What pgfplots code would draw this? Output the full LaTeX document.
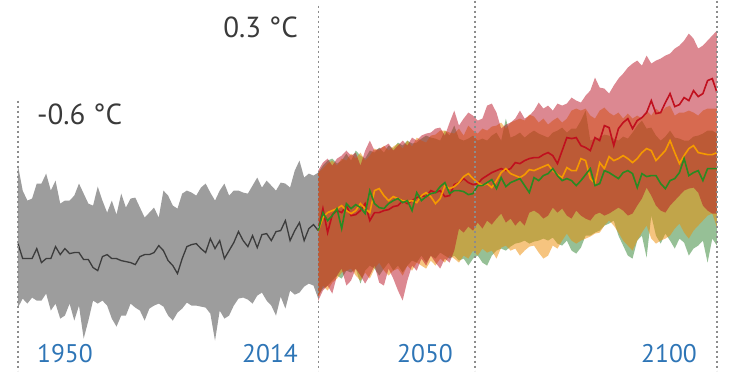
\documentclass[border=0pt]{standalone}
\usepackage{pgfplots}
\usepackage{pgfplotstable}
\pgfplotsset{compat=1.18}
\usepgfplotslibrary{fillbetween}
\usepackage{fontspec}
\setmainfont{PT Sans}
\definecolor{histfill}{HTML}{9D9D9D}
\definecolor{histline}{HTML}{3C3C3C}
\definecolor{redfill}{HTML}{B91123}
\definecolor{orfill}{HTML}{EE8A00}
\definecolor{grfill}{HTML}{2D812D}
\definecolor{redline}{HTML}{C0101E}
\definecolor{orline}{HTML}{F59A00}
\definecolor{grline}{HTML}{2A8A22}
\definecolor{yearblue}{HTML}{2E75B6}
\definecolor{degtext}{HTML}{3A3A3A}
\definecolor{guide}{HTML}{8C8C8C}

\pgfplotstableread{
year up low mean
1950 165 307 243
1951 190 298 258
1952 200 303 258
1953 198 297 258
1954 183 300 248
1955 183 300 262
1956 173 293 258
1957 190 310 258
1958 180 303 246
1959 203 318 254
1960 200 315 248
1961 200 303 253
1962 195 320 252
1963 183 305 252
1964 193 338 259
1965 203 320 259
1966 205 300 267
1967 186 303 270
1968 200 300 256
1969 212 305 254
1970 200 318 258
1971 214 326 258
1972 193 315 260
1973 207 315 261
1974 198 303 262
1975 197 307 264
1976 207 310 256
1977 217 320 254
1978 212 308 254
1979 207 305 252
1980 217 303 245
1981 190 306 250
1982 195 315 260
1983 205 320 265
1984 208 312 273
1985 193 308 258
1986 190 302 246
1987 192 305 244
1988 195 305 243
1989 187 306 248
1990 183 307 252
1991 192 313 238
1992 200 340 248
1993 190 310 240
1994 183 318 258
1995 195 315 250
1996 190 305 242
1997 190 298 231
1998 192 297 240
1999 193 299 246
2000 185 303 235
2001 177 295 247
2002 187 292 234
2003 180 300 233
2004 185 305 240
2005 190 315 231
2006 182 296 230
2007 183 308 220
2008 187 290 240
2009 170 294 230
2010 160 292 222
2011 177 286 240
2012 173 283 228
2013 175 285 224
2014 172 298 230
}\hist

\pgfplotstableread{
year ru rl rm ou ol om gu gl gm
2014 170 300 230 172 298 230 172 295 230
2015 162 290 208 168 285 217 165 288 212
2016 158 285 232 163 290 212 160 285 220
2017 165 293 214 160 282 210 158 280 215
2018 158 275 210 165 278 208 163 275 208
2019 155 268 212 158 272 205 160 278 228
2020 150 285 205 160 270 210 153 270 203
2021 155 280 215 153 268 213 160 272 208
2022 152 268 214 158 275 210 150 268 204
2023 165 275 210 152 280 203 155 283 207
2024 150 283 203 160 272 208 158 270 213
2025 140 275 220 155 278 212 150 265 190
2026 150 265 212 148 268 190 152 268 203
2027 148 282 212 150 262 188 147 275 207
2028 146 285 210 145 270 195 152 268 208
2029 143 268 209 150 275 200 145 262 203
2030 150 278 206 146 270 196 148 270 200
2031 145 290 205 143 268 198 142 265 198
2032 140 300 200 148 275 200 145 272 202
2033 145 280 203 140 265 201 140 265 200
2034 137 265 200 146 270 200 143 260 210
2035 140 270 197 137 262 202 142 262 192
2036 135 258 195 140 265 195 138 255 200
2037 133 265 196 142 268 192 135 262 196
2038 132 255 190 135 260 196 137 255 193
2039 128 262 192 134 265 203 138 258 192
2040 127 268 190 130 258 198 140 252 186
2041 135 258 196 130 262 185 130 255 182
2042 122 262 195 132 255 188 135 258 193
2043 110 250 184 133 258 186 125 255 190
2044 125 228 182 128 262 182 138 260 190
2045 118 232 178 135 255 176 140 258 191
2046 112 226 182 125 258 173 138 265 194
2047 115 230 184 130 250 178 135 258 193
2048 120 222 183 133 255 182 140 255 185
2049 118 228 178 128 248 185 138 262 185
2050 105 220 175 130 252 183 140 265 182
2051 103 224 172 126 250 187 135 255 179
2052 112 218 170 125 258 180 132 250 188
2053 128 213 168 122 247 172 140 248 177
2054 124 222 170 128 245 168 118 250 186
2055 122 218 168 122 250 173 137 246 182
2056 118 225 162 120 248 175 135 243 180
2057 110 220 163 118 255 177 132 242 178
2058 118 225 160 120 250 174 137 240 185
2059 115 212 158 114 246 169 133 243 192
2060 110 210 157 116 245 170 130 241 177
2061 102 213 157 122 252 168 133 240 180
2062 108 218 154 118 258 166 135 238 175
2063 105 215 152 124 255 164 137 240 173
2064 110 207 155 120 245 170 132 237 168
2065 103 212 163 117 248 174 130 243 175
2066 105 208 150 122 240 177 127 245 180
2067 103 215 137 118 233 167 132 240 178
2068 97 218 138 110 240 170 128 250 180
2069 100 210 137 108 243 170 128 253 185
2070 102 215 145 110 240 158 120 247 180
2071 95 218 147 108 238 160 110 235 174
2072 90 220 150 115 236 178 140 235 168
2073 77 214 137 118 233 183 138 232 185
2074 87 212 140 110 232 162 137 230 183
2075 88 215 125 107 225 168 134 225 170
2076 93 213 127 112 220 156 135 223 172
2077 85 210 145 115 225 160 138 220 175
2078 78 207 128 112 232 158 140 235 178
2079 73 210 122 118 240 155 136 245 172
2080 67 215 118 113 245 158 138 255 170
2081 63 213 128 118 250 162 132 258 173
2082 60 205 120 115 240 158 125 240 187
2083 65 198 117 118 232 152 120 235 173
2084 55 187 112 110 225 148 128 257 176
2085 63 195 100 115 238 150 127 215 175
2086 60 205 113 108 243 160 135 235 175
2087 58 210 112 112 240 155 140 243 183
2088 55 212 102 107 238 150 136 233 188
2089 53 205 93 105 235 140 130 240 180
2090 48 200 106 115 228 152 137 248 178
2091 45 195 104 112 223 163 138 238 172
2092 40 190 97 112 232 155 140 242 158
2093 33 188 100 110 238 148 140 255 175
2094 38 187 90 112 230 145 136 248 172
2095 48 192 96 115 225 152 135 245 170
2096 45 205 93 110 220 153 133 240 180
2097 40 210 80 108 215 154 130 262 168
2098 35 213 78 108 213 154 130 238 168
2099 30 213 92 108 227 152 133 245 168
}\proj

\begin{document}
\begin{tikzpicture}
\begin{axis}[
  scale only axis, width=735pt, height=370pt,
  xmin=1946.163, xmax=2102.846, ymin=0, ymax=370,
  y dir=reverse, hide axis, clip=false,
]
% full frame for the bounding box
\path (rel axis cs:0,0) rectangle (rel axis cs:1,1);
% historical band
\addplot[name path=hu, draw=none] table[x=year, y=up] {\hist};
\addplot[name path=hl, draw=none] table[x=year, y=low] {\hist};
\addplot[histfill] fill between[of=hu and hl];
\addplot[histline, line width=1.3pt] table[x=year, y=mean] {\hist};

% projection bands
\addplot[name path=gu, draw=none] table[x=year, y=gu] {\proj};
\addplot[name path=gl, draw=none] table[x=year, y=gl] {\proj};
\addplot[grfill, fill opacity=0.5] fill between[of=gu and gl];
\addplot[name path=ou, draw=none] table[x=year, y=ou] {\proj};
\addplot[name path=ol, draw=none] table[x=year, y=ol] {\proj};
\addplot[orfill, fill opacity=0.5] fill between[of=ou and ol];
\addplot[name path=ru, draw=none] table[x=year, y=ru] {\proj};
\addplot[name path=rl, draw=none] table[x=year, y=rl] {\proj};
\addplot[redfill, fill opacity=0.5] fill between[of=ru and rl];

\addplot[redline, line width=1.6pt] table[x=year, y=rm] {\proj};
\addplot[orline, line width=1.6pt] table[x=year, y=om] {\proj};
\addplot[grline, line width=1.6pt] table[x=year, y=gm] {\proj};

% guide lines
\draw[guide, line width=1.2pt, dash pattern=on 2.5pt off 2.5pt] (axis cs:1950,100) -- (axis cs:1950,370);
\draw[guide, line width=1.2pt, dash pattern=on 2.5pt off 2.5pt] (axis cs:2014,5) -- (axis cs:2014,370);
\draw[guide, line width=1.2pt, dash pattern=on 2.5pt off 2.5pt] (axis cs:2047.42,0) -- (axis cs:2047.42,370);
\draw[guide, line width=1.2pt, dash pattern=on 2.5pt off 2.5pt] (axis cs:2099,0) -- (axis cs:2099,370);

% labels
\node[anchor=base west, inner sep=0pt, text=yearblue, font=\fontsize{25.5}{30}\selectfont] at (axis cs:1954.05,362) {1950};
\node[anchor=base east, inner sep=0pt, text=yearblue, font=\fontsize{25.5}{30}\selectfont] at (axis cs:2009.69,362) {2014};
\node[anchor=base east, inner sep=0pt, text=yearblue, font=\fontsize{25.5}{30}\selectfont] at (axis cs:2042.73,362) {2050};
\node[anchor=base east, inner sep=0pt, text=yearblue, font=\fontsize{25.5}{30}\selectfont] at (axis cs:2094.75,362) {2100};
\node[anchor=base west, inner sep=0pt, text=degtext, font=\fontsize{29}{34}\selectfont] at (axis cs:1954.05,124) {-0.6 °C};
\node[anchor=base east, inner sep=0pt, text=degtext, font=\fontsize{29}{34}\selectfont] at (axis cs:2009.69,37) {0.3 °C};
\end{axis}
\end{tikzpicture}
\end{document}
